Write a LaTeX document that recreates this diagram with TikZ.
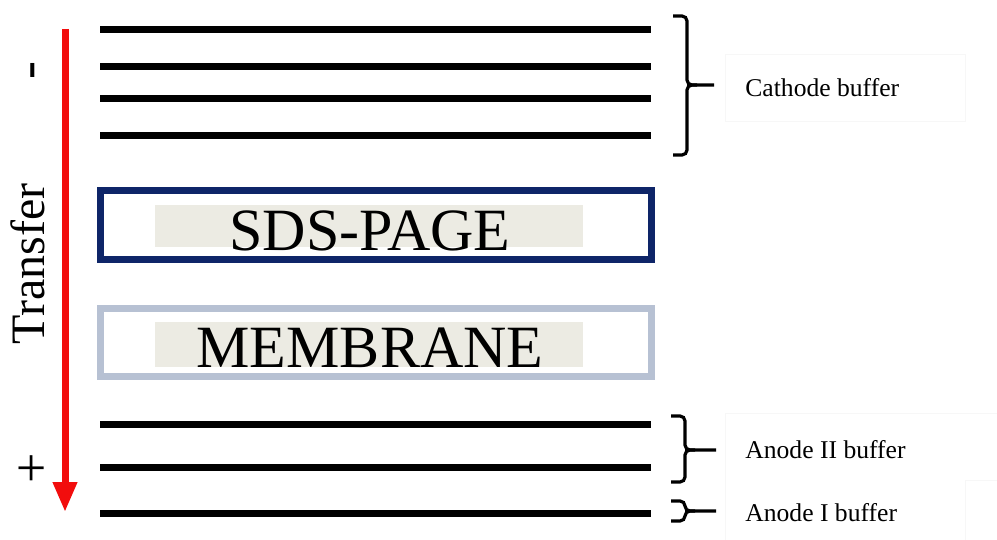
\documentclass[tikz,border=0pt]{standalone}
\usepackage{fontspec}
\setmainfont{Liberation Serif}
\usepackage{xcolor}
\usepackage{tikz}
\usetikzlibrary{arrows.meta,positioning}
\definecolor{gelnavy}{HTML}{0E2568}
\definecolor{membgray}{HTML}{B7C1D3}
\definecolor{bandbeige}{HTML}{ECEBE3}
\definecolor{transferred}{HTML}{F20D0D}
\definecolor{framegray}{HTML}{F7F7F7}
\tikzset{
  sheet/.style={line width=3.5pt,draw=black},
  gelbox/.style={draw,line width=3.5pt,fill=white,minimum width=275.5pt,inner sep=0pt},
  bandfill/.style={fill=bandbeige,minimum width=214pt,minimum height=21pt,inner sep=0pt},
  bandtext/.style={font=\fontsize{30}{32}\selectfont,inner sep=0pt,anchor=base},
  bufferlabel/.style={font=\fontsize{12.8}{14}\selectfont,inner sep=0pt,anchor=west},
  polelabel/.style={font=\fontsize{27}{28}\selectfont,inner sep=0pt,rotate=90},
  bracepen/.style={line width=1.6pt,rounded corners=2.5pt},
  transferarrow/.style={-{Triangle[length=15pt,width=11.5pt]},line width=3.5pt,draw=transferred}
}
\newcommand{\bufferbrace}[5]{%
  \draw[bracepen] (#1-14,#2) -- (#1,#2) -- (#1,#4) -- (#5,#4);
  \draw[bracepen] (#1-14,#3) -- (#1,#3) -- (#1,#4) -- (#1+10,#4);
}

\begin{document}
\begin{tikzpicture}[x=0.5pt,y=-0.5pt]
\useasboundingbox (0,0) rectangle (997,540);

% buffer sheets
\foreach \y in {30,67,99,136,424,467,513}
  \draw[sheet] (100,\y) -- (651,\y);

% gel and membrane
\node[gelbox, draw=gelnavy, minimum height=34.5pt] (sdsbox) at (376,225) {};
\node[bandfill] (sdsband) at (369,226) {};
\node[bandtext] (sdslabel) at (370,250) {SDS-PAGE};

\node[gelbox, draw=membgray, minimum height=34pt] (membox) at (376,342.5) {};
\node[bandfill, minimum height=22.5pt] (memband) at (369,344.5) {};
\node[bandtext] (memlabel) at (370,367) {MEMBRANE};

% transfer direction
\coordinate (arrowtop) at (65,29);
\coordinate (arrowtip) at (65,512);
\draw[transferarrow] (arrowtop) -- (arrowtip);
\node[polelabel] (minuslabel) at (38,71) {-};
\node[polelabel] (pluslabel) at (34,468) {+};
\node[font=\fontsize{24}{26}\selectfont, rotate=90, inner sep=0pt] (transferlabel) at (28,264) {Transfer};

% label frames
\draw[framegray, line width=0.5pt] (725,55) rectangle (965,122);
\draw[framegray, line width=0.5pt] (725,413) -- (997,413);
\draw[framegray, line width=0.5pt] (725,413) -- (725,540);
\draw[framegray, line width=0.5pt] (965,540) -- (965,480) -- (997,480);

% braces
\bufferbrace{687}{16}{155}{85}{714}
\bufferbrace{685}{416}{482}{450}{716}
\bufferbrace{685}{501}{521}{511}{716}

\node[bufferlabel] (cathodelabel) at (745,88) {Cathode buffer};
\node[bufferlabel] (anodeIIlabel) at (745,450) {Anode II buffer};
\node[bufferlabel] (anodeIlabel) at (745,513) {Anode I buffer};
\end{tikzpicture}
\end{document}
